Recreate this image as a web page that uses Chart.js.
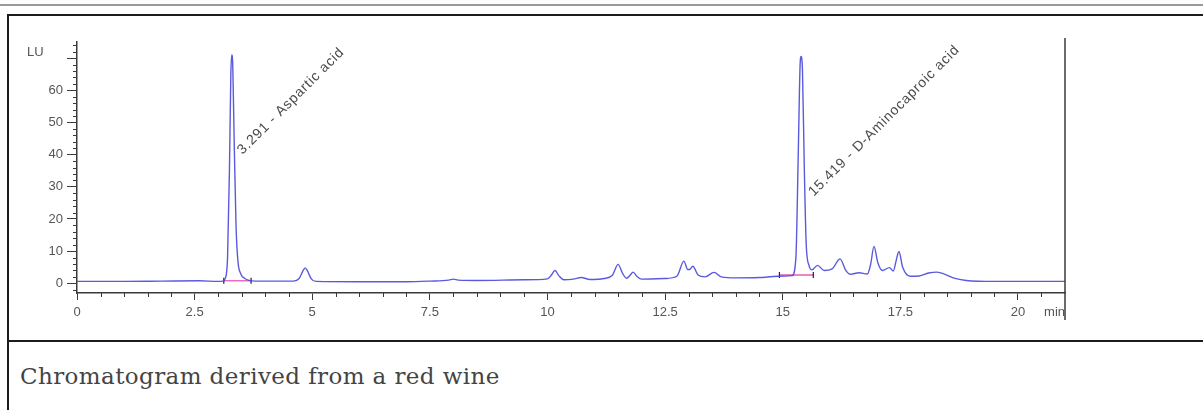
<!DOCTYPE html>
<html>
<head>
<meta charset="utf-8">
<script src="https://cdn.jsdelivr.net/npm/chart.js@4.4.1/dist/chart.umd.min.js"></script>
<style>
    body { margin: 0; background: #fff; overflow: hidden; }
    #topline { position: absolute; left: 0; top: 4px; width: 1203px; height: 2px; background: #9a9a9a; }
    #frame { position: absolute; left: 7px; top: 14px; width: 1400px; height: 324px; border: 2px solid #1c1c1c; }
    #capborder { position: absolute; left: 7px; top: 342px; width: 2px; height: 80px; background: #1c1c1c; }
    #caption { position: absolute; left: 20px; top: 363px; font-family: "DejaVu Serif", serif; font-size: 23px; letter-spacing: 0.4px; color: #444; white-space: nowrap; }
    #wrap { position: absolute; left: 9px; top: 16px; width: 1180px; height: 322px; }
</style>
</head>
<body>
<div id="topline"></div>
<div id="frame"></div>
<div id="capborder"></div>
<div id="wrap"><canvas id="chromChart" width="1180" height="322"></canvas></div>
<div id="caption">Chromatogram derived from a red wine</div>
<script>
// trace (retention time in min, signal in LU)
const timeMin = [
    0, 1.0, 1.8, 2.6, 3.0, 3.1, 3.15, 3.2, 3.24, 3.27, 3.29, 3.31, 3.34, 3.38, 3.42, 3.48, 3.56, 3.66, 3.8,
    4.6, 4.72, 4.8, 4.85, 4.9, 4.98, 5.08, 6.0, 7.0, 7.5, 7.9, 8.0, 8.1, 8.5, 9.5,
    10.0, 10.08, 10.16, 10.24, 10.35, 10.55, 10.72, 10.9, 11.2, 11.38, 11.5, 11.6, 11.68, 11.76, 11.82, 11.9,
    12.0, 12.5, 12.75, 12.9, 12.98, 13.02, 13.09, 13.2, 13.35, 13.54, 13.7, 14.0, 14.5, 14.9,
    15.2, 15.28, 15.33, 15.37, 15.39, 15.42, 15.46, 15.5, 15.56, 15.62, 15.74, 15.88,
    16.05, 16.22, 16.34, 16.44, 16.62, 16.8, 16.87, 16.94, 17.02, 17.12, 17.27, 17.35, 17.41, 17.47, 17.55, 17.71,
    17.9, 18.1, 18.28, 18.45, 18.64, 18.9, 19.5, 21.0
];
const signalLU = [
    0.6, 0.6, 0.7, 0.8, 0.6, 0.7, 1.5, 8, 35, 65, 71, 68, 45, 18, 7, 3, 1.6, 0.9, 0.7,
    0.7, 1.5, 3.8, 4.8, 3.8, 1.4, 0.6, 0.5, 0.5, 0.7, 1.0, 1.3, 1.0, 0.9, 1.1,
    1.4, 2.5, 4.0, 2.4, 1.1, 1.3, 1.8, 1.2, 1.5, 2.5, 5.9, 3.0, 1.6, 2.6, 3.5, 2.2,
    1.3, 1.5, 2.2, 6.9, 4.3, 4.3, 5.3, 2.6, 2.0, 3.4, 2.0, 1.7, 1.8, 2.2,
    2.4, 8, 40, 68, 70.5, 66, 35, 12, 5.5, 4.2, 5.6, 4.0,
    4.5, 7.6, 4.0, 2.8, 3.3, 2.9, 6, 11.5, 6.5, 4.0, 4.9, 3.8, 7, 9.9, 5, 2.2,
    2.3, 3.2, 3.5, 2.8, 1.6, 0.9, 0.6, 0.6
];

// integration baselines
const asparticBaseTimes = [3.12, 3.70];
const asparticBaseLevels = [0.8, 0.8];
const aminoBaseTimes = [14.93, 15.65];
const aminoBaseLevels = [2.6, 2.6];

// peak annotations
const peakLabels = ['3.291 - Aspartic acid', '15.419 - D-Aminocaproic acid'];
const peakLabelTimes = [3.52, 15.66];
const peakLabelLevels = [39.9, 26.9];

const xTickValues = [0, 2.5, 5, 7.5, 10, 12.5, 15, 17.5, 20];
const yTickValues = [0, 10, 20, 30, 40, 50, 60, 70];

const axisColor = '#3a3a3a';
const labelColor = '#555';
const fontFamily = '"Liberation Sans", Arial, sans-serif';

function toPoints(xs, ys) {
    return xs.map((x, i) => ({ x: x, y: ys[i] }));
}

const chromExtras = {
    id: 'chromExtras',
    afterDraw(chart) {
        const ctx = chart.ctx;
        const xs = chart.scales.x;
        const ys = chart.scales.y;
        const area = chart.chartArea;
        ctx.save();
        ctx.strokeStyle = axisColor;
        ctx.lineWidth = 1;
        // minor ticks on x
        ctx.beginPath();
        for (let t = 0.5; t < 21; t += 0.5) {
            if (t % 2.5 === 0) continue;
            const px = Math.round(xs.getPixelForValue(t)) + 0.5;
            ctx.moveTo(px, area.bottom);
            ctx.lineTo(px, area.bottom + 4);
        }
        // minor ticks on y
        for (let v = -2; v <= 74; v += 2) {
            if (v % 10 === 0) continue;
            const py = Math.round(ys.getPixelForValue(v)) + 0.5;
            ctx.moveTo(area.left - 4, py);
            ctx.lineTo(area.left, py);
        }
        ctx.stroke();
        // right frame line
        ctx.lineWidth = 1.5;
        ctx.beginPath();
        ctx.moveTo(area.right, area.top - 4);
        ctx.lineTo(area.right, area.bottom + 27);
        ctx.stroke();
        // unit labels
        ctx.fillStyle = labelColor;
        ctx.font = '13px ' + fontFamily;
        ctx.textBaseline = 'middle';
        ctx.textAlign = 'left';
        ctx.fillText('LU', 18, 36);
        ctx.textAlign = 'right';
        ctx.fillText('min', area.right, area.bottom + 19);
        // peak labels
        ctx.fillStyle = '#4a4a4a';
        ctx.font = '14px ' + fontFamily;
        ctx.letterSpacing = '0.8px';
        ctx.textAlign = 'left';
        ctx.textBaseline = 'alphabetic';
        peakLabels.forEach((text, i) => {
            ctx.save();
            ctx.translate(xs.getPixelForValue(peakLabelTimes[i]), ys.getPixelForValue(peakLabelLevels[i]));
            ctx.rotate(-Math.PI / 4);
            ctx.fillText(text, 0, 0);
            ctx.restore();
        });
        ctx.restore();
    }
};

new Chart(document.getElementById('chromChart').getContext('2d'), {
    type: 'line',
    data: {
        datasets: [{
            label: 'signal',
            data: toPoints(timeMin, signalLU),
            borderColor: 'rgba(72, 72, 218, 0.9)',
            borderWidth: 1.4,
            pointRadius: 0,
            cubicInterpolationMode: 'monotone',
            fill: false
        }, {
            label: 'baseline 1',
            data: toPoints(asparticBaseTimes, asparticBaseLevels),
            borderColor: 'rgb(232, 90, 180)',
            borderWidth: 1.3,
            pointStyle: 'line',
            pointRotation: 90,
            pointRadius: 3,
            pointBorderColor: '#222',
            pointBorderWidth: 1.2
        }, {
            label: 'baseline 2',
            data: toPoints(aminoBaseTimes, aminoBaseLevels),
            borderColor: 'rgb(232, 90, 180)',
            borderWidth: 1.3,
            pointStyle: 'line',
            pointRotation: 90,
            pointRadius: 3,
            pointBorderColor: '#222',
            pointBorderWidth: 1.2
        }]
    },
    options: {
        responsive: false,
        animation: false,
        layout: { padding: { top: 26, right: 124, left: 0, bottom: 0 } },
        plugins: {
            legend: { display: false },
            tooltip: { enabled: false }
        },
        scales: {
            x: {
                type: 'linear',
                min: 0,
                max: 21,
                afterBuildTicks: function(scale) {
                    scale.ticks = xTickValues.map(v => ({ value: v }));
                },
                afterFit: function(scale) { scale.height = 45; },
                border: { color: axisColor, width: 1.5 },
                grid: { drawOnChartArea: false, tickLength: 7, tickColor: axisColor },
                ticks: {
                    color: labelColor,
                    font: { family: fontFamily, size: 13 },
                    padding: 5,
                    maxRotation: 0,
                    autoSkip: false,
                    callback: function(value) { return String(value); }
                }
            },
            y: {
                type: 'linear',
                min: -3,
                max: 75,
                afterBuildTicks: function(scale) {
                    scale.ticks = yTickValues.map(v => ({ value: v }));
                },
                afterFit: function(scale) { scale.width = 68; },
                border: { color: axisColor, width: 1.5 },
                grid: { drawOnChartArea: false, tickLength: 10, tickColor: axisColor },
                ticks: {
                    color: labelColor,
                    font: { family: fontFamily, size: 13 },
                    padding: 4,
                    autoSkip: false,
                    callback: function(value) { return value === 70 ? '' : String(value); }
                }
            }
        }
    },
    plugins: [chromExtras]
});
</script>
</body>
</html>
